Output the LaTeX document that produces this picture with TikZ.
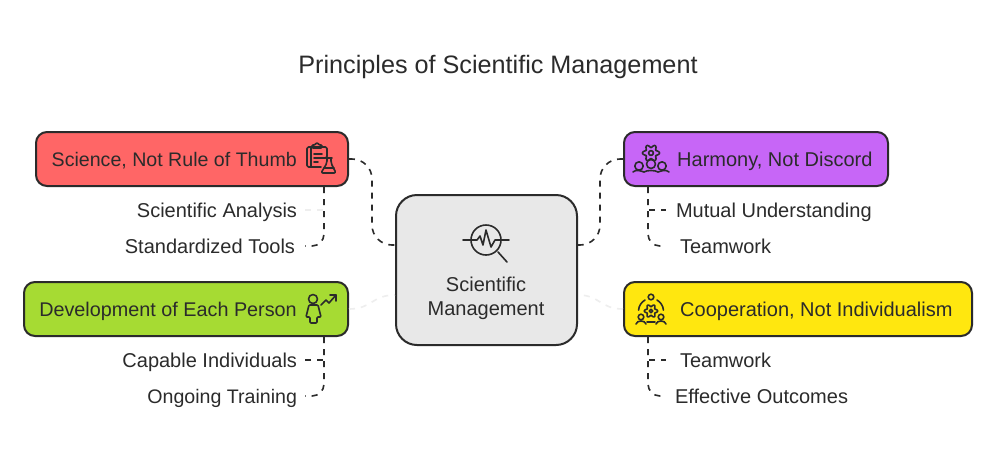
\documentclass[tikz,border=0pt]{standalone}
\usepackage{fontspec}
\setmainfont{Liberation Sans}
\definecolor{ink}{HTML}{2B2B2B}
\definecolor{faint}{HTML}{EEEEEE}
\definecolor{redfill}{HTML}{FF6666}
\definecolor{greenfill}{HTML}{A6DB33}
\definecolor{purplefill}{HTML}{C766F7}
\definecolor{yellowfill}{HTML}{FFE70F}
\definecolor{greyfill}{HTML}{E8E8E8}
\tikzset{
	box/.style={draw=ink,line width=2pt,rounded corners=11pt,inner sep=0pt},
	boxtext/.style={text=ink,inner sep=0pt,text height=14pt,text depth=0pt,font=\fontsize{20}{24}\selectfont},
	narrowtext/.style={font=\fontsize{19.6}{24}\selectfont},
	sublabel/.style={boxtext,outer xsep=#1},
	link/.style={draw=ink,line width=1.6pt,dash pattern=on 6pt off 6pt},
	fadedlink/.style={draw=faint,line width=1.6pt,dash pattern=on 6pt off 6pt},
	iconline/.style={draw=ink,line width=1.6pt,line join=round,line cap=round}
}
\begin{document}
\begin{tikzpicture}[x=1pt,y=-1pt]
	    \useasboundingbox[fill=white](0,0) rectangle (996,456);
	    \node (title) at (498,66.5) [text=ink,font=\fontsize{25.2}{30}\selectfont]{Principles of Scientific Management};
	    \node (center) at (486.5,270) [box,fill=greyfill,minimum width=181pt,minimum height=150pt,rounded corners=21pt]{};
	    \node (centertext) at (486,298.5) [text=ink,inner sep=0pt,align=center,font=\fontsize{20}{24}\selectfont]{Scientific\\Management};
	    \node (redbox) at (192,159) [box,fill=redfill,minimum width=312pt,minimum height=54pt]{};
	    \node (greenbox) at (186,309) [box,fill=greenfill,minimum width=324pt,minimum height=54pt]{};
	    \node (purplebox) at (756,159) [box,fill=purplefill,minimum width=264pt,minimum height=54pt]{};
	    \node (yellowbox) at (798,309) [box,fill=yellowfill,minimum width=348pt,minimum height=54pt]{};
	    \node (redtext) at (297,159) [boxtext,narrowtext,anchor=east]{Science, Not Rule of Thumb};
	    \node (greentext) at (297,309) [boxtext,font=\fontsize{19.8}{24}\selectfont,anchor=east]{Development of Each Person};
	    \node (purpletext) at (677,159) [boxtext,anchor=west]{Harmony, Not Discord};
	    \node (yellowtext) at (680,309) [boxtext,anchor=west]{Cooperation, Not Individualism};
	    \node (analysis) at (305,210) [sublabel=8pt,anchor=east]{Scientific Analysis};
	    \node (tools) at (305,246) [sublabel=10pt,anchor=east]{Standardized Tools};
	    \node (capable) at (305,360) [sublabel=8pt,anchor=east]{Capable Individuals};
	    \node (training) at (305,396) [sublabel=8pt,narrowtext,anchor=east]{Ongoing Training};
	    \node (mutual) at (666,210) [sublabel=10pt,anchor=west]{Mutual Understanding};
	    \node (teamworka) at (666,246) [sublabel=14pt,anchor=west]{Teamwork};
	    \node (teamworkb) at (666,360) [sublabel=14pt,anchor=west]{Teamwork};
	    \node (outcomes) at (666,396) [sublabel=9pt,anchor=west]{Effective Outcomes};
	    \coordinate (centerla) at (395,245);
	    \coordinate (centerlb) at (395,295);
	    \coordinate (centerra) at (578,245);
	    \coordinate (centerrb) at (578,295);
	    \coordinate (redfoot) at (324,187);
	    \coordinate (greenfoot) at (324,337);
	    \coordinate (purplefoot) at (648,187);
	    \coordinate (yellowfoot) at (648,337);
	    \draw[link,rounded corners=20pt](redbox.east)--(372,159)--(372,245)--(centerla);
	    \draw[link,rounded corners=20pt](purplebox.west)--(600,159)--(600,245)--(centerra);
	    \draw[fadedlink](greenbox.east) .. controls (372,309) and (372,295) .. (centerlb);
	    \draw[fadedlink](yellowbox.west) .. controls (600,309) and (600,295) .. (centerrb);
	    \draw[fadedlink](analysis.east)--(324,210);
	    \draw[link,rounded corners=12pt](redfoot)--(324,246)--(tools.east);
	    \draw[link](greenfoot)--(324,360)--(capable.east);
	    \draw[link,rounded corners=12pt](greenfoot)--(324,396)--(training.east);
	    \draw[link](purplefoot)--(648,210)--(mutual.west);
	    \draw[link,rounded corners=12pt](purplefoot)--(648,246)--(teamworka.west);
	    \draw[link](yellowfoot)--(648,360)--(teamworkb.west);
	    \draw[link,rounded corners=12pt](yellowfoot)--(648,396)--(outcomes.west);
	    \draw[iconline](486,240) circle(15);
	    \draw[iconline](463,240)--(477,240)--(480,236)--(483,245)--(486,230)--(491,247)--(495,240)--(509,240);
	    \draw[iconline](498,252)--(507,262);
	    \draw[iconline,rounded corners=1.5pt](322,158)--(327,158)--(327,147)--(307,147)--(307,167)--(321,167);
	    \draw[iconline](311,147)--(311,167);
	    \draw[iconline,rounded corners=1pt](312,148)--(312,145)--(315,145)--(316,143)--(318,143)--(319,145)--(322,145)--(322,148)--cycle;
	    \draw[iconline](314,154)--(322,154);
	    \draw[iconline](314,158)--(322,158);
	    \draw[iconline](314,162)--(318,162);
	    \draw[iconline](326,158)--(332,158);
	    \draw[iconline,rounded corners=2pt](327,158)--(327,163)--(321,173)--(336,173)--(331,163)--(331,158);
	    \draw[iconline](324,168)--(334,168);
	    \draw[iconline](313,299) circle(4.5);
	    \draw[iconline,rounded corners=1pt](309,305)--(306,317)--(310,317)--(310,323)--(317,323)--(317,317)--(321,317)--(318,305)--cycle;
	    \draw[iconline](321,305)--(326,300)--(329,303)--(336,295);
	    \draw[iconline](330,295)--(336,295)--(336,301);
	    \draw[iconline] plot[domain=0:360,samples=73,smooth] ({651+(7+1.5*cos(6*\x))*cos(\x)},{153+(7+1.5*cos(6*\x))*sin(\x)});
	    \draw[iconline](651,153) circle(2.4);
	    \draw[iconline](639,166) circle(4.2);
	    \draw[iconline](651,164) circle(4.5);
	    \draw[iconline](662,166) circle(4.2);
	    \draw[iconline](633,172) .. controls (636,169) and (641,171) .. (644,172) .. controls (647,170) and (655,170) .. (658,172) .. controls (661,171) and (666,169) .. (669,172);
	    \draw[iconline] plot[domain=0:360,samples=73,smooth] ({651+(5.5+1.2*cos(6*\x))*cos(\x)},{311+(5.5+1.2*cos(6*\x))*sin(\x)});
	    \draw[iconline](651,311) circle(1.7);
	    \draw[iconline](651,297) circle(2.8);
	    \draw[iconline](641,317) circle(2.8);
	    \draw[iconline](661,317) circle(2.8);
	    \draw[iconline](636,324) .. controls (637,320) and (645,320) .. (646,324);
	    \draw[iconline](656,324) .. controls (657,320) and (665,320) .. (666,324);
	    \draw[iconline](657,300) arc (-60:-5:13);
	    \draw[iconline](645,300) arc (240:185:13);
	    \draw[iconline](647,322)--(655,322);
\end{tikzpicture}
\end{document}
